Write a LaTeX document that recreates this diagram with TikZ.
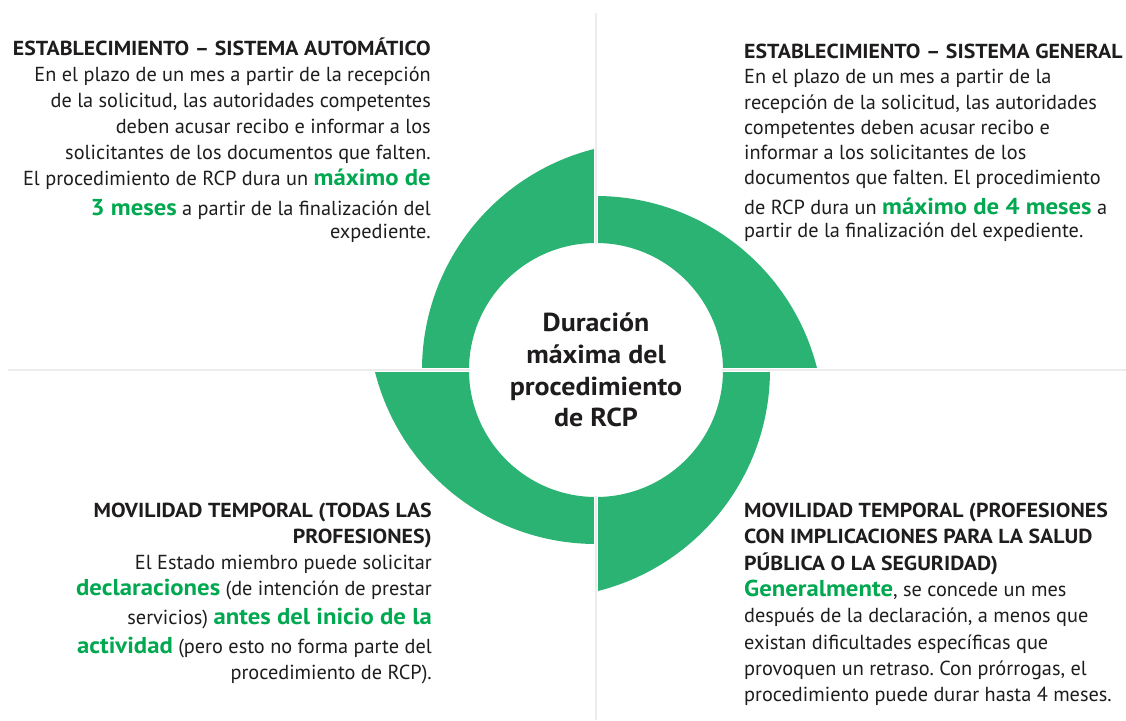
\documentclass[tikz,border=0pt]{standalone}
\usepackage{fontspec}
\setmainfont{PT Sans}
\newfontfamily\hdfont{PT Sans}[FakeStretch=1.075]
\definecolor{ring}{RGB}{43,179,115}
\definecolor{hl}{RGB}{0,168,80}
\definecolor{ink}{RGB}{30,28,28}
\definecolor{rulegray}{RGB}{236,236,236}
\newcommand\hi[1]{{\hdfont\bfseries\color{hl}\fontsize{23}{26}\selectfont #1}}
\newcommand\hd[1]{{\hdfont\bfseries\fontsize{20.3}{26}\selectfont #1}}
\frenchspacing
\begin{document}
\begin{tikzpicture}[x=1pt,y=1pt,
  piece/.style={fill=ring,draw=none},
  txt/.style={inner sep=0pt,text=ink,font=\fontsize{20.3}{26}\selectfont},
  gap/.style={white,line width=4pt},
  sep/.style={rulegray,line width=1.6pt}]
\useasboundingbox (-596,-350) rectangle (530,370);
% ring pieces
\fill[piece] (0,127) -- (0,174) arc[start angle=90,end angle=13.7,radius=228] -- (127,0) arc[start angle=0,end angle=90,radius=127] -- cycle;
\fill[piece] (127,0) -- (174,0) arc[start angle=0,end angle=-76.3,radius=228] -- (0,-127) arc[start angle=-90,end angle=0,radius=127] -- cycle;
\fill[piece] (0,-127) -- (0,-174) arc[start angle=270,end angle=193.7,radius=228] -- (-127,0) arc[start angle=180,end angle=270,radius=127] -- cycle;
\fill[piece] (-127,0) -- (-174,0) arc[start angle=180,end angle=103.7,radius=228] -- (0,127) arc[start angle=90,end angle=180,radius=127] -- cycle;
% separators
\coordinate (hL) at (-588,0);
\coordinate (hR) at (530,0);
\coordinate (vT) at (0,357);
\coordinate (vB) at (0,-350);
\draw[gap] (hL) -- (hR);
\draw[gap] (vT) -- (vB);
\draw[sep] (hL) -- (hR);
\draw[sep] (vT) -- (vB);
\fill[white] (0,0) circle[radius=126];
% centre
\node[align=center,text=ink,font=\hdfont\bfseries\fontsize{26}{31.7}\selectfont,inner sep=0pt] (c) at (0,0) {Duración\\máxima del\\procedimiento\\de RCP};
% texts
\node[txt,anchor=north east,align=right] (tl) at (-165,332) {\hd{ESTABLECIMIENTO – SISTEMA AUTOMÁTICO}\\
En el plazo de un mes a partir de la recepción\\
de la solicitud, las autoridades competentes\\
deben acusar recibo e informar a los\\
solicitantes de los documentos que falten.\\
El procedimiento de RCP dura un \hi{máximo de}\\[4pt]
\hi{3 meses} a partir de la finalización del\\[-3pt]
expediente.};
\node[txt,anchor=north west,align=left,font=\fontsize{20.3}{25.2}\selectfont] (tr) at (148,326) {\hd{ESTABLECIMIENTO – SISTEMA GENERAL}\\
En el plazo de un mes a partir de la\\
recepción de la solicitud, las autoridades\\
competentes deben acusar recibo e\\
informar a los solicitantes de los\\
documentos que falten. El procedimiento\\[4.8pt]
de RCP dura un \hi{máximo de 4 meses} a\\[-2pt]
partir de la finalización del expediente.};
\node[txt,anchor=north east,align=right] (bl) at (-164,-132.5) {\hd{MOVILIDAD TEMPORAL (TODAS LAS}\\
\hd{PROFESIONES)}\\
El Estado miembro puede solicitar\\
\hi{declaraciones} (de intención de prestar\\[3pt]
servicios) \hi{antes del inicio de la}\\[3pt]
\hi{actividad} (pero esto no forma parte del\\
procedimiento de RCP).};
\node[txt,anchor=north west,align=left,font=\fontsize{20.3}{26.3}\selectfont] (br) at (148,-133) {\hd{MOVILIDAD TEMPORAL (PROFESIONES}\\
\hd{CON IMPLICACIONES PARA LA SALUD}\\
\hd{PÚBLICA O LA SEGURIDAD)}\\
\hi{Generalmente}, se concede un mes\\
después de la declaración, a menos que\\
existan dificultades específicas que\\
provoquen un retraso. Con prórrogas, el\\
procedimiento puede durar hasta 4 meses.};
\end{tikzpicture}
\end{document}
